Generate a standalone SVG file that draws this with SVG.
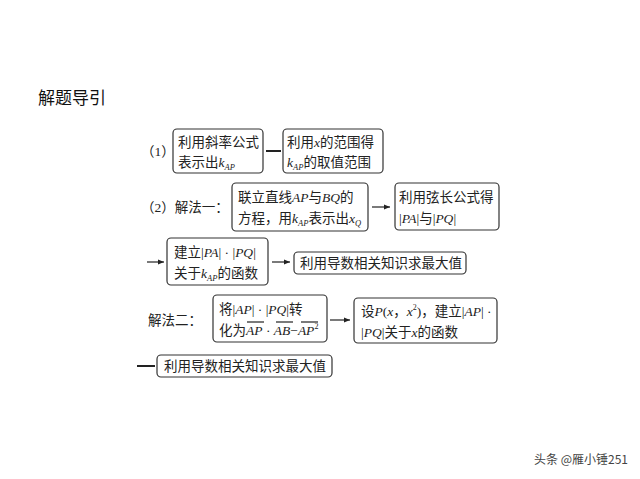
<svg xmlns="http://www.w3.org/2000/svg" width="640" height="479" viewBox="0 0 640 479">
<style>
.b{fill:#fff;stroke:#333;stroke-width:1.2}
.t{font-family:"Liberation Serif","Noto Sans CJK SC",serif;font-size:13.5px;fill:#222}
.i{font-style:italic}
.s{font-size:8.5px;font-style:italic}
.c{stroke:#222;stroke-width:1.2;fill:none}
.h{stroke:#222;stroke-width:2;fill:none}
</style>
<defs>
<marker id="a" viewBox="0 0 6 6" refX="6" refY="3" markerWidth="5" markerHeight="5" orient="auto"><path d="M0,0.5 L6,3 L0,5.5 z" fill="#222"/></marker>
</defs>
<rect width="640" height="479" fill="#fff"/>
<text x="38" y="104" style="font-family:'Noto Sans CJK SC',sans-serif;font-size:17px;fill:#111">解题导引</text>
<text class="t" x="141" y="156">（1）</text>
<text class="t" x="141" y="212">（2）解法一：</text>
<text class="t" x="148" y="325">解法二：</text>
<g id="connectors">
<line class="h" x1="266" y1="151" x2="281" y2="151"/>
<line class="c" x1="372" y1="207" x2="390" y2="207" marker-end="url(#a)"/>
<line class="c" x1="147" y1="262" x2="164" y2="262" marker-end="url(#a)"/>
<line class="c" x1="272" y1="262" x2="290" y2="262" marker-end="url(#a)"/>
<line class="c" x1="330" y1="320" x2="350" y2="320" marker-end="url(#a)"/>
<line class="h" x1="137" y1="366" x2="155" y2="366"/>
</g>
<g id="n1"><rect class="b" x="173" y="129" width="90" height="44" rx="4"/>
<text class="t" x="178" y="147">利用斜率公式</text>
<text class="t" x="178" y="167">表示出<tspan class="i">k</tspan><tspan class="s" dy="3">AP</tspan></text></g>
<g id="n2"><rect class="b" x="283" y="129" width="100" height="44" rx="4"/>
<text class="t" x="287" y="147">利用<tspan class="i">x</tspan>的范围得</text>
<text class="t" x="287" y="167"><tspan class="i">k</tspan><tspan class="s" dy="3">AP</tspan><tspan dy="-3">的取值范围</tspan></text></g>
<g id="n3"><rect class="b" x="232" y="183" width="136" height="48" rx="4"/>
<text class="t" x="238" y="202">联立直线<tspan class="i">AP</tspan>与<tspan class="i">BQ</tspan>的</text>
<text class="t" x="238" y="223">方程，用<tspan class="i">k</tspan><tspan class="s" dy="3">AP</tspan><tspan dy="-3">表示出</tspan><tspan class="i">x</tspan><tspan class="s" dy="3">Q</tspan></text></g>
<g id="n4"><rect class="b" x="395" y="183" width="104" height="47" rx="4"/>
<text class="t" x="399" y="202">利用弦长公式得</text>
<text class="t" x="399" y="223">|<tspan class="i">PA</tspan>|与|<tspan class="i">PQ</tspan>|</text></g>
<g id="n5"><rect class="b" x="167" y="238" width="101" height="47" rx="4"/>
<text class="t" x="174" y="257">建立|<tspan class="i">PA</tspan>| · |<tspan class="i">PQ</tspan>|</text>
<text class="t" x="174" y="278">关于<tspan class="i">k</tspan><tspan class="s" dy="3">AP</tspan><tspan dy="-3">的函数</tspan></text></g>
<g id="n6"><rect class="b" x="294" y="252" width="172" height="22" rx="4"/>
<text class="t" x="300" y="268">利用导数相关知识求最大值</text></g>
<g id="n7"><rect class="b" x="213" y="295" width="114" height="47" rx="4"/>
<text class="t" x="219" y="314">将|<tspan class="i">AP</tspan>| · |<tspan class="i">PQ</tspan>|转</text>
<text class="t" x="219" y="335">化为<tspan class="i">AP</tspan> · <tspan class="i">AB</tspan>−<tspan class="i">AP</tspan><tspan font-size="8" dy="-6">2</tspan></text>
<g class="c" stroke-width="0.9"><line x1="247" y1="322" x2="264" y2="322"/><line x1="276" y1="322" x2="293" y2="322"/><line x1="301" y1="322" x2="318" y2="322"/></g></g>
<g id="n8"><rect class="b" x="354" y="298" width="143" height="45" rx="4"/>
<text class="t" x="361" y="316">设<tspan class="i">P</tspan>(<tspan class="i">x</tspan>，<tspan class="i">x</tspan><tspan font-size="8" dy="-6">2</tspan><tspan dy="6">)，建立|</tspan><tspan class="i">AP</tspan>| ·</text>
<text class="t" x="361" y="337">|<tspan class="i">PQ</tspan>|关于<tspan class="i">x</tspan>的函数</text></g>
<g id="n9"><rect class="b" x="157" y="355" width="175" height="22" rx="4"/>
<text class="t" x="164" y="371">利用导数相关知识求最大值</text></g>
<text x="534" y="464" style="font-family:'Noto Sans CJK SC',sans-serif;font-size:12px;fill:#444">头条 @雁小锤251</text>
</svg>
